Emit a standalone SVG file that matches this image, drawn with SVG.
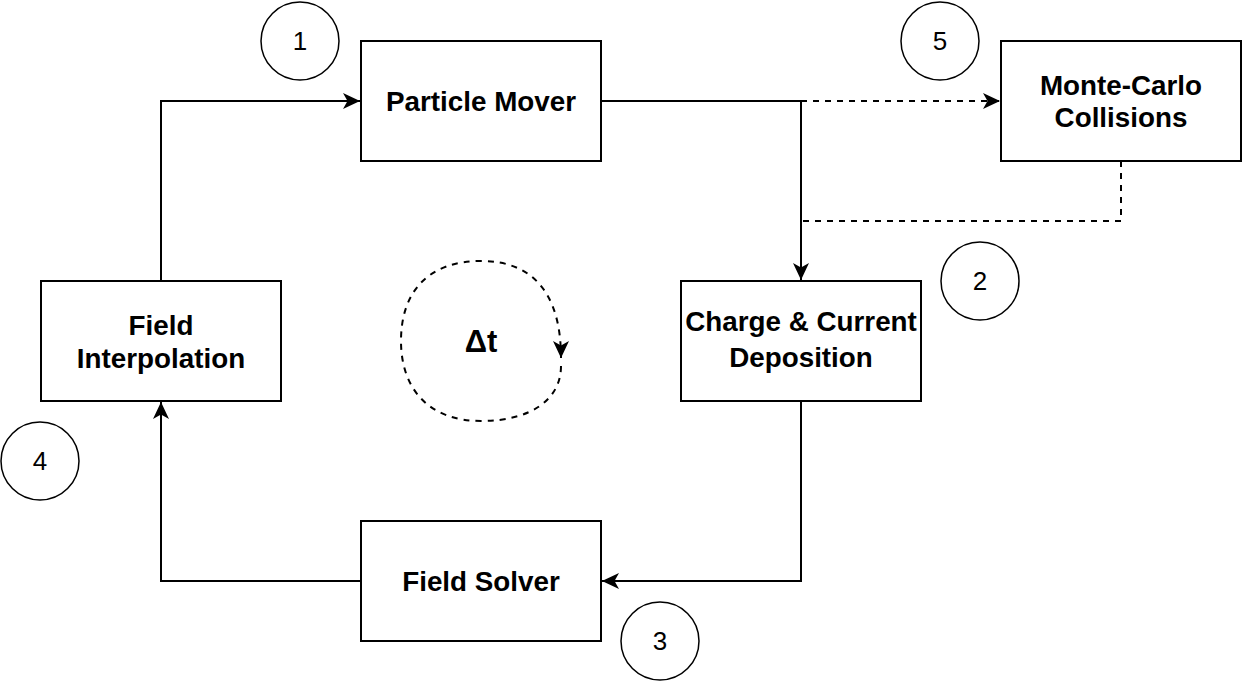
<svg xmlns="http://www.w3.org/2000/svg" width="1242" height="682" viewBox="0 0 1242 682">
<defs>
<style>
.box{fill:#fff;stroke:#000;stroke-width:2}
.lbl{font-family:"Liberation Sans",Arial,Helvetica,sans-serif;font-weight:bold;font-size:27.8px;text-anchor:middle;fill:#000}
.num{font-family:"Liberation Sans",Arial,Helvetica,sans-serif;font-size:26px;text-anchor:middle;fill:#000}
.circ{fill:#fff;stroke:#000;stroke-width:1.5}
.edge{fill:none;stroke:#000;stroke-width:2}
.dash{stroke-dasharray:6 6}
</style>
<marker id="arr" markerUnits="userSpaceOnUse" markerWidth="20" markerHeight="20" viewBox="0 0 20 20" refX="17" refY="8" orient="auto">
<path d="M0,0 L17,8 L0,16 L4.5,8 Z" fill="#000"/>
</marker>
</defs>
<rect width="1242" height="682" fill="#fff"/>
<g id="connectors">
<polyline class="edge" points="601,101 801,101 801,280" marker-end="url(#arr)"/>
<polyline class="edge dash" points="801,101 1000,101" marker-end="url(#arr)"/>
<polyline class="edge dash" points="1121,161 1121,221 801,221"/>
<polyline class="edge" points="801,401 801,581 602,581" marker-end="url(#arr)"/>
<polyline class="edge" points="361,581 161,581 161,402" marker-end="url(#arr)"/>
<polyline class="edge" points="161,281 161,101 360,101" marker-end="url(#arr)"/>
</g>
<g id="loop">
<path class="edge dash" d="M561,366 C561,400 530,421 481,421 C430,421 401,390 401,341 C401,290 430,261 481,261 C530,261 561,290 561,358" marker-end="url(#arr)"/>
<text class="lbl" x="481" y="352" style="font-size:31px">Δt</text>
</g>
<g id="particle-mover"><rect class="box" x="361" y="41" width="240" height="120"/><text class="lbl" x="481" y="111">Particle Mover</text></g>
<g id="monte-carlo"><rect class="box" x="1001" y="41" width="240" height="120"/><text class="lbl" x="1121" y="95">Monte-Carlo</text><text class="lbl" x="1121" y="127">Collisions</text></g>
<g id="deposition"><rect class="box" x="681" y="281" width="240" height="120"/><text class="lbl" x="801" y="331">Charge &amp; Current</text><text class="lbl" x="801" y="367">Deposition</text></g>
<g id="field-solver"><rect class="box" x="361" y="521" width="240" height="120"/><text class="lbl" x="481" y="591">Field Solver</text></g>
<g id="field-interpolation"><rect class="box" x="41" y="281" width="240" height="120"/><text class="lbl" x="161" y="335">Field</text><text class="lbl" x="161" y="368">Interpolation</text></g>
<g id="step1"><circle class="circ" cx="300" cy="41" r="39"/><text class="num" x="300" y="50">1</text></g>
<g id="step2"><circle class="circ" cx="980" cy="281" r="39"/><text class="num" x="980" y="290">2</text></g>
<g id="step3"><circle class="circ" cx="660" cy="641" r="39"/><text class="num" x="660" y="650">3</text></g>
<g id="step4"><circle class="circ" cx="40" cy="461" r="39"/><text class="num" x="40" y="470">4</text></g>
<g id="step5"><circle class="circ" cx="940" cy="41" r="39"/><text class="num" x="940" y="50">5</text></g>
</svg>
